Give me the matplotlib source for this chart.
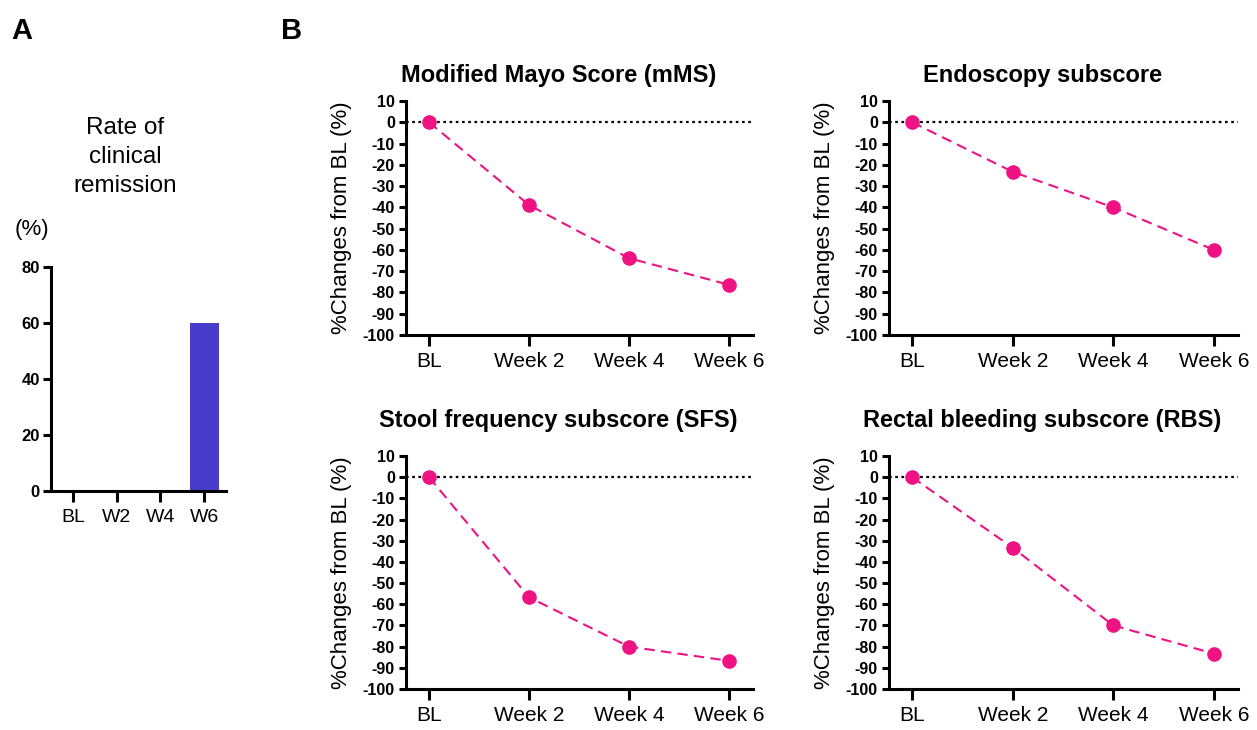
"""Clinical remission rate and % change from baseline of Mayo subscores."""

import matplotlib
matplotlib.use("Agg")
import matplotlib.pyplot as plt

plt.rcParams["font.family"] = ["Liberation Sans", "DejaVu Sans"]
plt.rcParams["axes.unicode_minus"] = False

# Panel A data
remission_labels = ["BL", "W2", "W4", "W6"]
remission_rate = [0, 0, 0, 60]

# Panel B data
week_labels = ["BL", "Week 2", "Week 4", "Week 6"]
panel_titles = [
    "Modified Mayo Score (mMS)",
    "Endoscopy subscore",
    "Stool frequency subscore (SFS)",
    "Rectal bleeding subscore (RBS)",
]
mms_change = [0, -38.9, -63.9, -76.4]
endo_change = [0, -23.3, -40.0, -60.0]
sfs_change = [0, -56.7, -80.0, -86.7]
rbs_change = [0, -33.3, -70.0, -83.3]

W, H = 1257, 730
PINK = "#EE1282"
BLUE = "#483DCB"
SPINE_W = 2.2

fig = plt.figure(figsize=(W / 100, H / 100), dpi=100)


def px_axes(x0, y0, x1, y1):
    """Add axes from pixel box (left, top, right, bottom)."""
    return fig.add_axes([x0 / W, 1 - y1 / H, (x1 - x0) / W, (y1 - y0) / H])


def style_axes(ax):
    for side in ["top", "right"]:
        ax.spines[side].set_visible(False)
    for side in ["left", "bottom"]:
        ax.spines[side].set_linewidth(SPINE_W)
    ax.tick_params(width=SPINE_W, length=6, direction="out")


# ---- Panel A ----
ax_a = px_axes(51, 267, 226, 491)
ax_a.bar(range(len(remission_rate)), remission_rate, width=0.66, color=BLUE)
ax_a.set_xlim(-0.5, 3.5)
ax_a.set_ylim(0, 80)
ax_a.set_yticks([0, 20, 40, 60, 80])
ax_a.set_xticks(range(len(remission_labels)))
ax_a.set_xticklabels(remission_labels, fontsize=14)
for lbl in ax_a.get_yticklabels():
    lbl.set_fontweight("bold")
    lbl.set_fontsize(12)
style_axes(ax_a)
ax_a.tick_params(axis="y", pad=2)
ax_a.tick_params(axis="x", length=8, pad=5)
fig.text(125 / W, 1 - 157 / H, "Rate of\nclinical\nremission", ha="center",
         va="center", fontsize=17.5, linespacing=1.4)
fig.text(32 / W, 1 - 229 / H, "(%)", ha="center", va="center", fontsize=16)

# ---- Panel B ----
series = [mms_change, endo_change, sfs_change, rbs_change]
boxes = [
    (406, 101, 753, 335),
    (889, 101, 1238, 335),
    (406, 456, 753, 689),
    (889, 456, 1238, 689),
]
title_pads = [14, 14, 21, 21]
for title, values, (x0, y0, x1, y1), tpad in zip(panel_titles, series, boxes, title_pads):
    ax = px_axes(x0, y0, x1, y1)
    ax.axhline(0, color="black", linestyle=(0, (1.2, 1.6)), linewidth=1.6, zorder=1)
    ax.plot(range(len(values)), values, color=PINK, linestyle=(0, (5, 3)),
            linewidth=1.5, marker="o", markersize=9.5, zorder=3)
    ax.set_xlim(-0.23, 3.24)
    ax.set_ylim(-100, 10)
    ax.set_yticks(range(-100, 11, 10))
    ax.set_xticks(range(len(week_labels)))
    ax.set_xticklabels(week_labels, fontsize=15)
    for lbl in ax.get_yticklabels():
        lbl.set_fontweight("bold")
        lbl.set_fontsize(11.5)
    style_axes(ax)
    ax.tick_params(axis="y", length=5, pad=3)
    ax.tick_params(axis="x", length=8, pad=4)
    ax.set_ylabel("%Changes from BL (%)", fontsize=16, labelpad=8)
    ax.set_title(title, fontsize=17, fontweight="bold", pad=tpad,
                 x=0.5 - 21 / (x1 - x0))

fig.text(22 / W, 1 - 31 / H, "A", fontsize=21, fontweight="bold", ha="center", va="center")
fig.text(292 / W, 1 - 31 / H, "B", fontsize=21, fontweight="bold", ha="center", va="center")

fig.savefig("out.png", dpi=100)
